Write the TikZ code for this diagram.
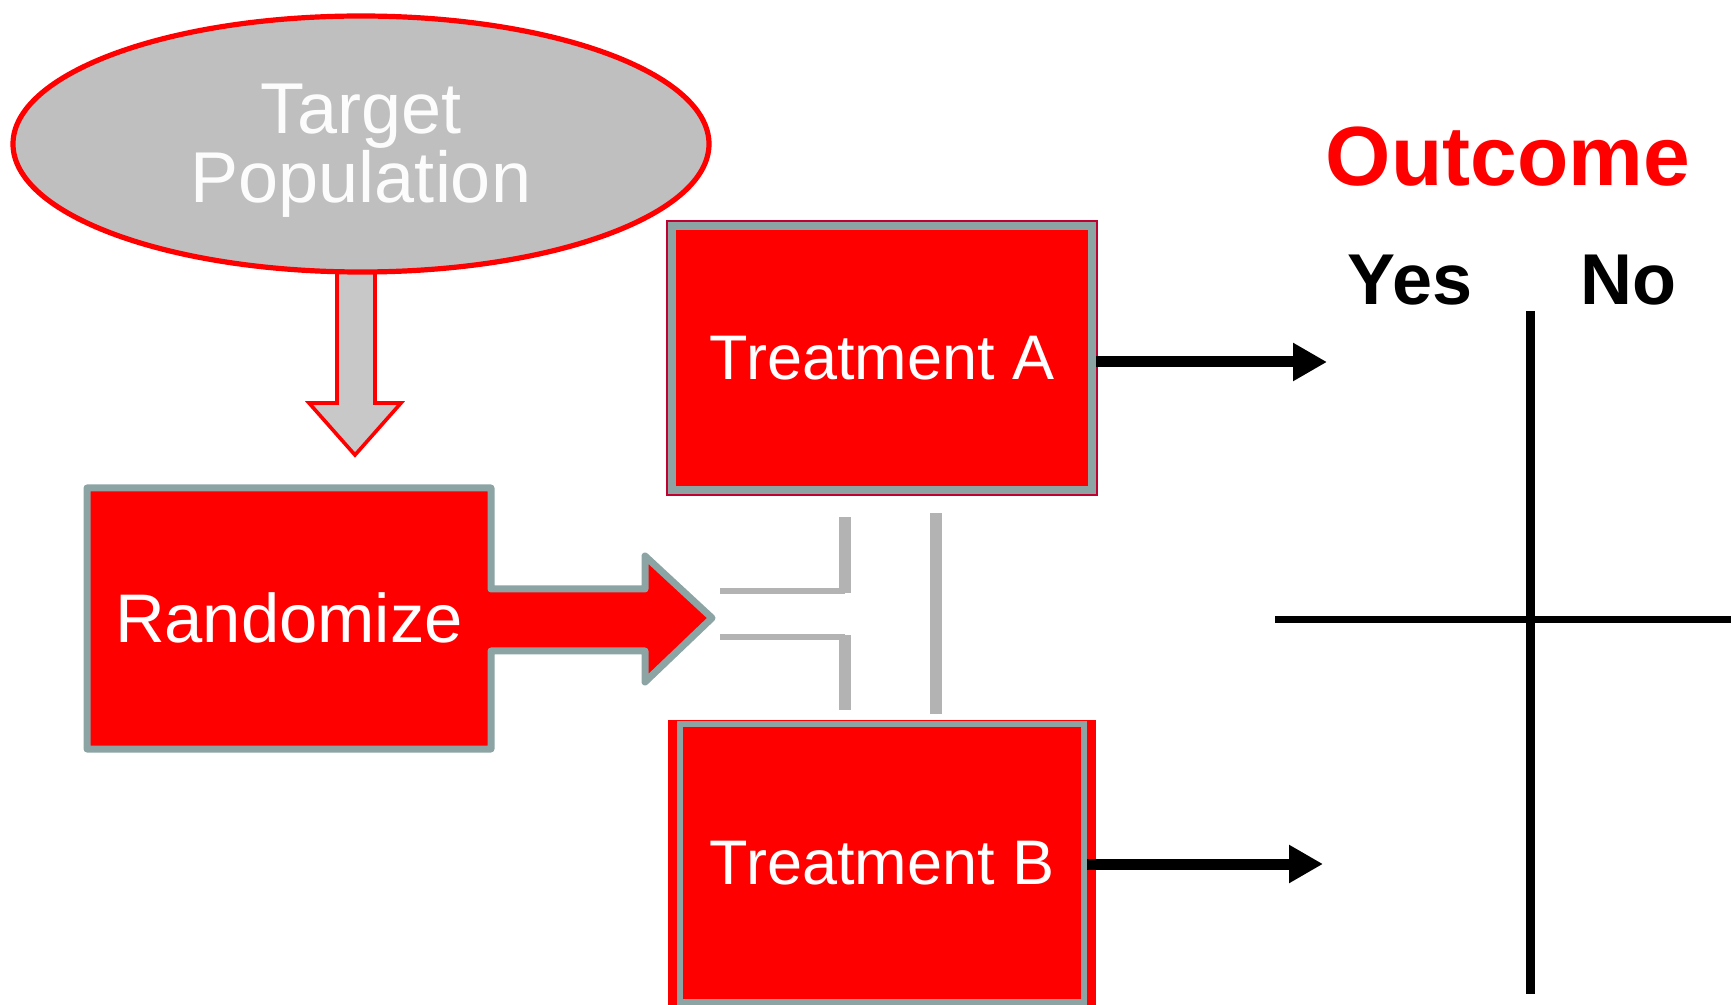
\documentclass[tikz,border=0pt]{standalone}
\usepackage{fontspec}
\setmainfont{Liberation Sans}
\usetikzlibrary{shapes.geometric,arrows.meta}
\definecolor{rred}{HTML}{FF0000}
\definecolor{bgray}{HTML}{8CA4A4}
\definecolor{lgray}{HTML}{BFBFBF}
\definecolor{agray}{HTML}{C8C8C8}
\definecolor{lngray}{HTML}{B3B3B3}
\definecolor{dred}{HTML}{C00030}
\begin{document}
\begin{tikzpicture}[x=0.5pt,y=-0.5pt,
  treat/.style={rectangle, fill=rred, draw=bgray, text=white, inner sep=0pt,
    font=\fontsize{31.5}{36}\selectfont},
  blkarrow/.style={line width=5.5pt, -{Triangle[length=17pt,width=18pt]}},
  bracketh/.style={draw=lngray, line width=3pt},
  bracketv/.style={draw=lngray, line width=6pt},
  crossline/.style={draw=black, line width=4.5pt},
  headtxt/.style={inner sep=0pt, font=\bfseries\fontsize{36}{40}\selectfont}]
\useasboundingbox (0,0) rectangle (1731,1005);
\clip (0,0) rectangle (1731,1005);

% down block arrow
\draw[fill=agray, draw=rred, line width=1.8pt, line join=miter]
  (337,270) -- (337,403) -- (309,403) -- (355,455) -- (401,403) -- (375,403) -- (375,270) -- cycle;

% target population
\node[ellipse, fill=lgray, draw=rred, line width=2.6pt, inner sep=0pt,
  minimum width=348pt, minimum height=128pt, text=white!95!lgray, align=center,
  font=\fontsize{36}{33.5}\selectfont] (target) at (361,144) {};
\node[text=white!95!lgray, align=center, inner sep=0pt,
  font=\fontsize{36}{33.5}\selectfont] (targettxt) at (361,151) {Target\\Population};

% randomize block with arrow
\draw[fill=rred, draw=bgray, line width=3.5pt, line join=round]
  (87,488) -- (491,488) -- (491,589) -- (645,589) -- (645,556) -- (712,618)
  -- (645,682) -- (645,651) -- (491,651) -- (491,749) -- (87,749) -- cycle;
\node[text=white, inner sep=0pt, font=\fontsize{34.4}{40}\selectfont] (rand) at (289,618) {Randomize};

% gray brackets
\coordinate (ga1) at (720,591); \coordinate (ga2) at (845,591); \coordinate (ga3) at (845,517);
\coordinate (gb1) at (720,637); \coordinate (gb2) at (845,637); \coordinate (gb3) at (845,710);
\coordinate (gc1) at (936,513); \coordinate (gc2) at (936,714);
\draw[bracketh] (ga1) -- (ga2);
\draw[bracketv] ([yshift=-1pt]ga2) -- (ga3);
\draw[bracketh] (gb1) -- (gb2);
\draw[bracketv] ([yshift=1pt]gb2) -- (gb3);
\draw[bracketv] (gc1) -- (gc2);

% treatment A
\node[treat, line width=4pt, minimum width=210pt, minimum height=132pt,
  preaction={draw=dred, line width=6pt}] (tA) at (882,358) {Treatment A};

% treatment B
\fill[rred] (668,720) rectangle (1096,1010);
\node[treat, line width=3pt, minimum width=202pt, minimum height=139pt] (tB) at (882,863) {Treatment B};

% outcome arrows
\coordinate (ya) at (1327,362);
\coordinate (yb) at (1323,864);
\draw[blkarrow] (tA.east |- ya) -- (ya);
\draw[blkarrow] (tB.east |- yb) -- (yb);

% outcome labels
\node[inner sep=0pt, text=rred, font=\bfseries\fontsize{42}{48}\selectfont] (outc) at (1508,157) {Outcome};
\node[headtxt] (yes) at (1410,280) {Yes};
\node[headtxt] (no) at (1628,280) {No};

% cross
\coordinate (vt) at (1530,311); \coordinate (vb) at (1530,994);
\coordinate (hl) at (1275,620); \coordinate (hr) at (1731,620);
\draw[crossline] (vt) -- (vb);
\draw[crossline, line width=3.5pt] (hl) -- (hr);
\end{tikzpicture}
\end{document}
